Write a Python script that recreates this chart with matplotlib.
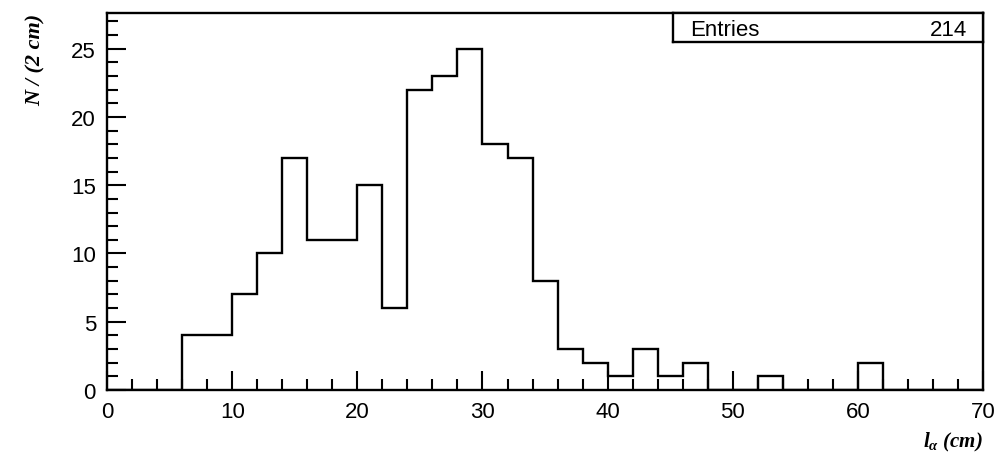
import numpy as np
import matplotlib.pyplot as plt

# bin edges (2 cm bins) and counts
edges = np.arange(0, 72, 2)
counts = [0, 0, 0, 4, 4, 7, 10, 17, 11, 11, 15, 6, 22, 23, 25, 18, 17, 8,
          3, 2, 1, 3, 1, 2, 0, 0, 1, 0, 0, 0, 2, 0, 0, 0, 0]
entries = 214

plt.rcParams['font.family'] = ['Liberation Sans', 'DejaVu Sans']
plt.rcParams['mathtext.fontset'] = 'custom'
plt.rcParams['mathtext.it'] = 'Liberation Serif:italic:bold'
plt.rcParams['mathtext.rm'] = 'Liberation Serif:bold'

fig = plt.figure(figsize=(10.01, 4.56), dpi=100)
ax = fig.add_axes([0.107, 0.1425, 0.875, 0.8265])

ax.stairs(counts, edges, color='black', linewidth=1.7)

ax.set_xlim(0, 70)
ax.set_ylim(0, 27.6)
ax.set_xticks(np.arange(0, 71, 10))
ax.set_xticks(np.arange(0, 71, 2), minor=True)
ax.set_yticks(np.arange(0, 26, 5))
ax.set_yticks(np.arange(0, 28, 1), minor=True)
ax.tick_params(which='both', direction='in', top=False, right=False,
               width=1.5, labelsize=16)
ax.tick_params(which='major', length=14, pad=8)
ax.tick_params(which='minor', length=8)
for s in ax.spines.values():
    s.set_linewidth(1.7)

ax.set_ylabel('N / (2 cm)', loc='top', fontsize=16, fontweight='bold',
              fontstyle='italic', family='Liberation Serif', labelpad=18)
ax.set_xlabel(r'$l_{\alpha}$ (cm)', loc='right', fontsize=15,
              fontweight='bold', fontstyle='italic', family='Liberation Serif',
              labelpad=6)

# stats box in the upper right corner
box = ax.inset_axes([0.6457, 0.923, 0.3543, 0.077])
box.set_xticks([])
box.set_yticks([])
for s in box.spines.values():
    s.set_linewidth(1.7)
box.text(0.055, 0.45, 'Entries', fontsize=16, va='center', ha='left',
         transform=box.transAxes)
box.text(0.95, 0.45, str(entries), fontsize=16, va='center', ha='right',
         transform=box.transAxes)

fig.savefig('out.png', dpi=100)
